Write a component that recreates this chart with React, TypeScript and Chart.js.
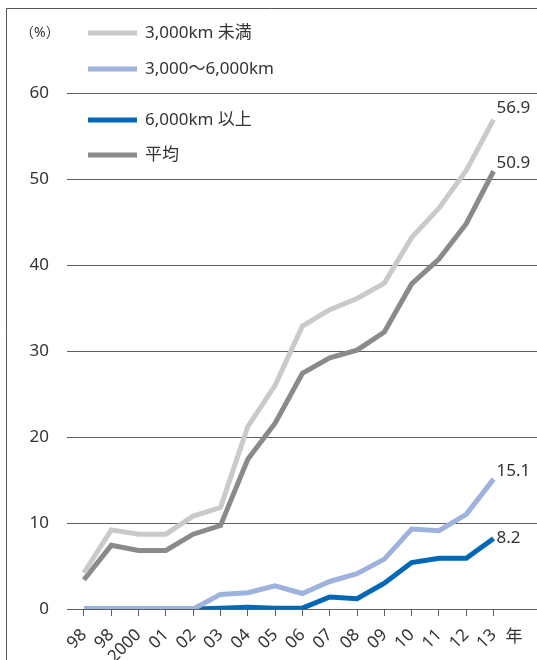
import React, { useEffect, useRef } from "react";
import { Chart, registerables } from "chart.js";

Chart.register(...registerables);

const xLabels = ["98", "98", "2000", "01", "02", "03", "04", "05", "06", "07", "08", "09", "10", "11", "12", "13"];
const yearUnit = "年";
const yUnit = "（%）";
const yTicks = [0, 10, 20, 30, 40, 50, 60];

const seriesNames = ["3,000km 未満", "3,000〜6,000km", "6,000km 以上", "平均"];
const under3000 = [4.2, 9.2, 8.7, 8.7, 10.8, 11.8, 21.2, 26.0, 32.9, 34.8, 36.1, 37.9, 43.2, 46.6, 51.0, 56.9];
const mid3000to6000 = [0, 0, 0, 0, 0, 1.7, 1.9, 2.7, 1.8, 3.2, 4.1, 5.8, 9.3, 9.1, 11.0, 15.1];
const over6000 = [0, 0, 0, 0, 0, 0.1, 0.2, 0.1, 0.1, 1.4, 1.2, 3.0, 5.4, 5.9, 5.9, 8.2];
const average = [3.4, 7.4, 6.8, 6.8, 8.7, 9.7, 17.4, 21.6, 27.4, 29.2, 30.1, 32.2, 37.8, 40.7, 44.8, 50.9];
const endLabels = ["56.9", "15.1", "8.2", "50.9"];

const colors = ["#c9cacb", "#9eb2de", "#0068b7", "#8a8a8a"];
const FONT = '"Noto Sans", "Noto Sans CJK JP", sans-serif';
const TEXT = "#333333";
const GRID = "#5e5e5e";

export default function App() {
  const ref = useRef<HTMLCanvasElement>(null);
  useEffect(() => {
    if (!ref.current) return;
    const endDy = [-12, -8, 0, -8];
    const legendY = [33, 69, 120, 155];
    const overlay = {
      id: "overlay",
      beforeDraw(chart: any) {
        const ctx = chart.ctx;
        ctx.save();
        ctx.strokeStyle = "#555";
        ctx.lineWidth = 1;
        ctx.beginPath();
        ctx.moveTo(6.5, chart.height);
        ctx.lineTo(6.5, 8.5);
        ctx.lineTo(chart.width, 8.5);
        ctx.stroke();
        ctx.restore();
      },
      afterDraw(chart: any) {
        const ctx = chart.ctx;
        const area = chart.chartArea;
        ctx.save();
        // end labels
        ctx.font = `17px ${FONT}`;
        ctx.fillStyle = TEXT;
        ctx.textAlign = "left";
        ctx.textBaseline = "middle";
        chart.data.datasets.forEach((ds: any, i: number) => {
          const meta = chart.getDatasetMeta(i);
          const pt = meta.data[meta.data.length - 1];
          ctx.fillText(endLabels[i], pt.x + 3, pt.y + endDy[i]);
        });
        // legend
        seriesNames.forEach((name, i) => {
          const y = legendY[i];
          ctx.strokeStyle = colors[i];
          ctx.lineWidth = 5;
          ctx.beginPath();
          ctx.moveTo(88, y);
          ctx.lineTo(137, y);
          ctx.stroke();
          ctx.fillStyle = TEXT;
          ctx.font = `17px ${FONT}`;
          ctx.fillText(name, 145, y);
        });
        // units
        ctx.font = `14px ${FONT}`;
        ctx.fillText(yUnit, 20, 33);
        ctx.font = `17px ${FONT}`;
        const xs = chart.scales.x;
        ctx.fillText(yearUnit, xs.getPixelForValue(xLabels.length - 1) + 12, area.bottom + 28);
        ctx.restore();
      },
    };
    const mk = (i: number, data: number[]) => ({
      label: seriesNames[i],
      data: data.map((y, x) => ({ x, y })),
      borderColor: colors[i],
      backgroundColor: colors[i],
      borderWidth: 5,
      pointRadius: 0,
      tension: 0,
      fill: false,
    });
    const chart = new Chart(ref.current, {
      type: "line",
      data: {
        datasets: [mk(0, under3000), mk(1, mid3000to6000), mk(2, over6000), mk(3, average)],
      },
      options: {
        animation: false,
        responsive: false,
        maintainAspectRatio: false,
        layout: { padding: { top: 93, left: 0, right: 0, bottom: 0 } },
        plugins: { legend: { display: false }, tooltip: { enabled: false } },
        scales: {
          x: {
            type: "linear",
            min: -0.62,
            max: 16.59,
            afterBuildTicks: (scale: any) => {
              scale.ticks = xLabels.map((_, i) => ({ value: i }));
            },
            afterFit: (scale: any) => {
              scale.height = 51;
            },
            ticks: {
              autoSkip: false,
              minRotation: 45,
              maxRotation: 45,
              padding: 9,
              color: TEXT,
              font: { family: FONT, size: 17 },
              callback: (v: any) => xLabels[v as number] ?? "",
            },
            grid: { drawOnChartArea: false, drawTicks: true, tickLength: 7, color: GRID },
            border: { display: true, color: GRID, width: 1 },
          },
          y: {
            min: 0,
            max: 60,
            afterBuildTicks: (scale: any) => {
              scale.ticks = yTicks.map((v) => ({ value: v }));
            },
            afterFit: (scale: any) => {
              scale.width = 67;
            },
            ticks: {
              padding: 18,
              color: TEXT,
              font: { family: FONT, size: 17 },
            },
            grid: { drawTicks: false, color: GRID, lineWidth: 1 },
            border: { display: false },
          },
        },
      },
      plugins: [overlay],
    });
    return () => chart.destroy();
  }, []);
  return (
    <div style={{ position: "fixed", left: 0, top: 0, width: 537, height: 660, background: "#fff" }}>
      <canvas ref={ref} width={537} height={660} style={{ display: "block" }} />
    </div>
  );
}
